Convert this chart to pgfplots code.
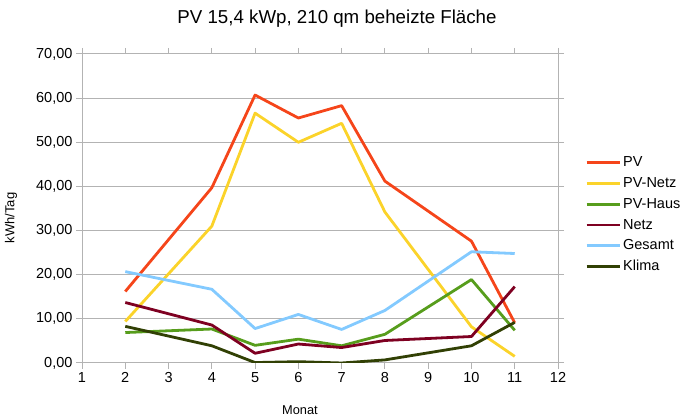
\documentclass[border=0pt]{standalone}
\usepackage{fontspec}
\setmainfont{Liberation Sans}
\usepackage{pgfplots}
\pgfplotsset{compat=1.18}
% LibreOffice default palette
\definecolor{cPV}{HTML}{F5451A}
\definecolor{cPVNetz}{HTML}{FBD32A}
\definecolor{cPVHaus}{HTML}{579D1C}
\definecolor{cNetz}{HTML}{7E0021}
\definecolor{cGesamt}{HTML}{83CAFF}
\definecolor{cKlima}{HTML}{314004}
\definecolor{gridgray}{HTML}{B3B3B3}

\begin{document}
\begin{tikzpicture}
\useasboundingbox (0pt,0pt) rectangle (690pt,419pt);
\begin{axis}[
    at={(82pt,56pt)}, anchor=south west,
    scale only axis,
    width=476pt, height=309pt,
    xmin=1, xmax=12, ymin=0, ymax=70,
    xtick={1,...,12},
    ytick={0,10,...,70},
    tick align=outside,
    major tick length=6pt,
    tick style={draw=gridgray, line width=1pt},
    axis line style={draw=gridgray, line width=1pt},
    ymajorgrids=true,
    grid style={draw=gridgray, line width=1pt},
    /pgf/number format/assume math mode=true,
    yticklabel style={/pgf/number format/.cd, fixed, fixed zerofill, precision=2, use comma},
    ticklabel style={font=\fontsize{14.5}{17}\selectfont, text=black},
    legend style={at={(rel axis cs:1.057,0.48)}, anchor=west, draw=none, fill=none,
        inner sep=0pt, row sep=6.8pt,
        font=\fontsize{14.5}{17}\selectfont,
        nodes={inner ysep=0pt, text height=11pt, text depth=3pt}},
    legend cell align=left,
    legend image code/.code={\draw[#1] (0pt,0pt) -- (33pt,0pt);},
    every axis plot/.append style={line width=2.8pt, line join=round},
]
\addplot[cPV] coordinates {(2,16.2) (4,39.7) (5,60.7) (6,55.5) (7,58.3) (8,41.2) (10,27.6) (11,9.1)};
\addlegendentry{PV}
\addplot[cPVNetz] coordinates {(2,9.4) (4,31.0) (5,56.6) (6,50.0) (7,54.3) (8,34.2) (10,8.2) (11,1.5)};
\addlegendentry{PV-Netz}
\addplot[cPVHaus] coordinates {(2,6.9) (4,7.7) (5,4.0) (6,5.4) (7,3.9) (8,6.5) (10,18.9) (11,7.4)};
\addlegendentry{PV-Haus}
\addplot[cNetz] coordinates {(2,13.7) (4,8.6) (5,2.2) (6,4.3) (7,3.5) (8,5.1) (10,6.0) (11,17.3)};
\addlegendentry{Netz}
\addplot[cGesamt] coordinates {(2,20.7) (4,16.7) (5,7.8) (6,11.0) (7,7.6) (8,11.9) (10,25.2) (11,24.8)};
\addlegendentry{Gesamt}
\addplot[cKlima] coordinates {(2,8.3) (4,3.9) (5,0.1) (6,0.3) (7,0.0) (8,0.7) (10,3.9) (11,9.2)};
\addlegendentry{Klima}
\end{axis}
\node[font=\fontsize{18.7}{22}\selectfont] at (337pt,400pt) {PV 15,4 kWp, 210 qm beheizte Fläche};
\node[font=\fontsize{12.8}{15}\selectfont] at (300pt,8.5pt) {Monat};
\node[font=\fontsize{13}{15}\selectfont, rotate=90] at (11pt,201pt) {kWh/Tag};
\end{tikzpicture}
\end{document}
